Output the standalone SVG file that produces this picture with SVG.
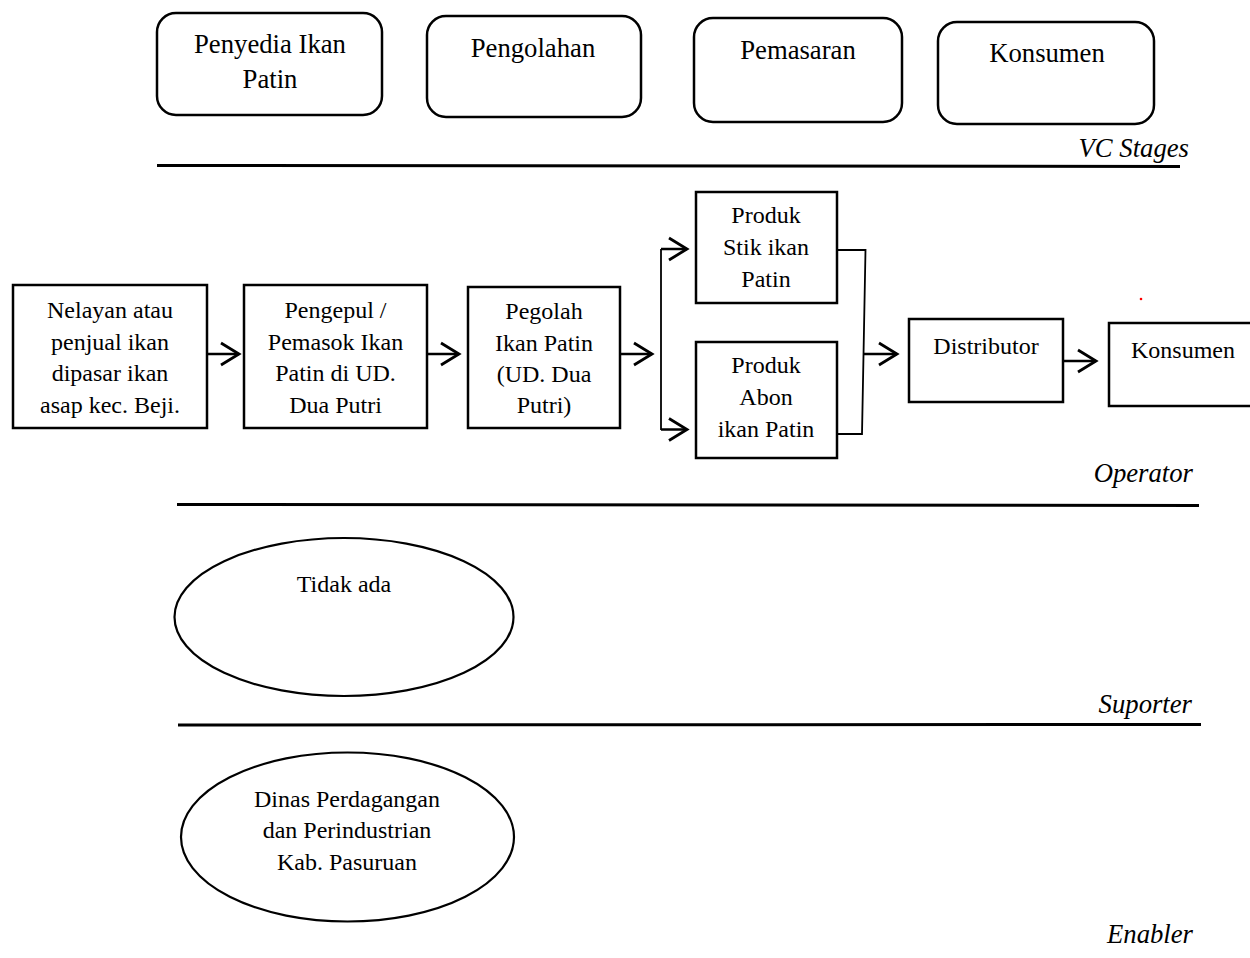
<svg xmlns="http://www.w3.org/2000/svg" width="1250" height="958" viewBox="0 0 1250 958">
<style>
  .stage { fill: #fff; stroke: #000; stroke-width: 2.5; }
  .box { fill: #fff; stroke: #000; stroke-width: 2.5; }
  .ell { fill: #fff; stroke: #000; stroke-width: 2.2; }
  .sep { stroke: #000; stroke-width: 3; fill: none; }
  .t26 { font-family: "Liberation Serif", "Times New Roman", serif; font-size: 26.7px; fill: #000; text-anchor: middle; }
  .t24 { font-family: "Liberation Serif", "Times New Roman", serif; font-size: 24px; fill: #000; text-anchor: middle; }
  .lbl { font-family: "Liberation Serif", "Times New Roman", serif; font-size: 26.7px; font-style: italic; fill: #000; text-anchor: end; }
  .conn { stroke: #000; stroke-width: 2.5; fill: none; }
  .brk { stroke: #000; stroke-width: 1.8; fill: none; }
</style>
<defs>
  <marker id="arr" markerUnits="userSpaceOnUse" markerWidth="24" markerHeight="28" viewBox="-2 -2 24 28" refX="18" refY="11" orient="auto">
    <path d="M0,0 L18,11 L0,22" fill="none" stroke="#000" stroke-width="2.8"/>
  </marker>
</defs>

<!-- VC Stages -->
<g id="stage-penyedia">
  <rect class="stage" x="157" y="13" width="225" height="102" rx="19"/>
  <text class="t26" x="270" y="53">Penyedia Ikan</text>
  <text class="t26" x="270" y="88">Patin</text>
</g>
<g id="stage-pengolahan">
  <rect class="stage" x="427" y="16" width="214" height="101" rx="19"/>
  <text class="t26" x="533" y="57">Pengolahan</text>
</g>
<g id="stage-pemasaran">
  <rect class="stage" x="694" y="18" width="208" height="104" rx="19"/>
  <text class="t26" x="798" y="59">Pemasaran</text>
</g>
<g id="stage-konsumen">
  <rect class="stage" x="938" y="22" width="216" height="102" rx="19"/>
  <text class="t26" x="1047" y="62">Konsumen</text>
</g>

<!-- Separators and section labels -->
<g id="separators">
  <line class="sep" x1="157" y1="165.5" x2="1180" y2="166.5"/>
  <line class="sep" x1="177" y1="504.5" x2="1199" y2="505.5"/>
  <line class="sep" x1="178" y1="725" x2="1201" y2="724.5"/>
  <text class="lbl" x="1189" y="157">VC Stages</text>
  <text class="lbl" x="1193" y="482">Operator</text>
  <text class="lbl" x="1192" y="713">Suporter</text>
  <text class="lbl" x="1193" y="943">Enabler</text>
</g>

<!-- Operators -->
<g id="op-nelayan">
  <rect class="box" x="13" y="285" width="194" height="143"/>
  <text class="t24" x="110" y="318">Nelayan atau</text>
  <text class="t24" x="110" y="350">penjual ikan</text>
  <text class="t24" x="110" y="381">dipasar ikan</text>
  <text class="t24" x="110" y="413">asap kec. Beji.</text>
</g>
<g id="op-pengepul">
  <rect class="box" x="244" y="285" width="183" height="143"/>
  <text class="t24" x="335.5" y="318">Pengepul /</text>
  <text class="t24" x="335.5" y="350">Pemasok Ikan</text>
  <text class="t24" x="335.5" y="381">Patin di UD.</text>
  <text class="t24" x="335.5" y="413">Dua Putri</text>
</g>
<g id="op-pengolah">
  <rect class="box" x="468" y="287" width="152" height="141"/>
  <text class="t24" x="544" y="319">Pegolah</text>
  <text class="t24" x="544" y="351">Ikan Patin</text>
  <text class="t24" x="544" y="382">(UD. Dua</text>
  <text class="t24" x="544" y="413">Putri)</text>
</g>
<g id="op-stik">
  <rect class="box" x="696" y="192" width="141" height="111"/>
  <text class="t24" x="766" y="223">Produk</text>
  <text class="t24" x="766" y="255">Stik ikan</text>
  <text class="t24" x="766" y="287">Patin</text>
</g>
<g id="op-abon">
  <rect class="box" x="696" y="342" width="141" height="116"/>
  <text class="t24" x="766" y="373">Produk</text>
  <text class="t24" x="766" y="405">Abon</text>
  <text class="t24" x="766" y="437">ikan Patin</text>
</g>
<g id="op-distributor">
  <rect class="box" x="909" y="319" width="154" height="83"/>
  <text class="t24" x="986" y="354">Distributor</text>
</g>
<g id="op-konsumen">
  <rect class="box" x="1109" y="323" width="155" height="83"/>
  <text class="t24" x="1183" y="358">Konsumen</text>
</g>

<!-- Supporter / Enabler -->
<g id="sup-tidak-ada">
  <ellipse class="ell" cx="344" cy="617" rx="169.5" ry="79"/>
  <text class="t24" x="344" y="592">Tidak ada</text>
</g>
<g id="en-dinas">
  <ellipse class="ell" cx="347.5" cy="837" rx="166.5" ry="84.5"/>
  <text class="t24" x="347" y="807">Dinas Perdagangan</text>
  <text class="t24" x="347" y="838">dan Perindustrian</text>
  <text class="t24" x="347" y="870">Kab. Pasuruan</text>
</g>

<circle cx="1141" cy="299" r="1.3" fill="#ff0000"/>

<!-- Connectors -->
<g id="connectors">
  <line class="conn" x1="207" y1="354" x2="239" y2="354" marker-end="url(#arr)"/>
  <line class="conn" x1="427" y1="354" x2="459" y2="354" marker-end="url(#arr)"/>
  <line class="conn" x1="620" y1="354" x2="652" y2="354" marker-end="url(#arr)"/>
  <line class="brk" x1="661" y1="249" x2="661" y2="430"/>
  <line class="conn" x1="661" y1="249" x2="687" y2="249" marker-end="url(#arr)"/>
  <line class="conn" x1="661" y1="429.5" x2="687" y2="429.5" marker-end="url(#arr)"/>
  <polyline class="brk" points="837,250 865.5,250 862,434 837,434"/>
  <line class="conn" x1="864" y1="354" x2="897" y2="354" marker-end="url(#arr)"/>
  <line class="conn" x1="1063" y1="361" x2="1096" y2="361" marker-end="url(#arr)"/>
</g>
</svg>
